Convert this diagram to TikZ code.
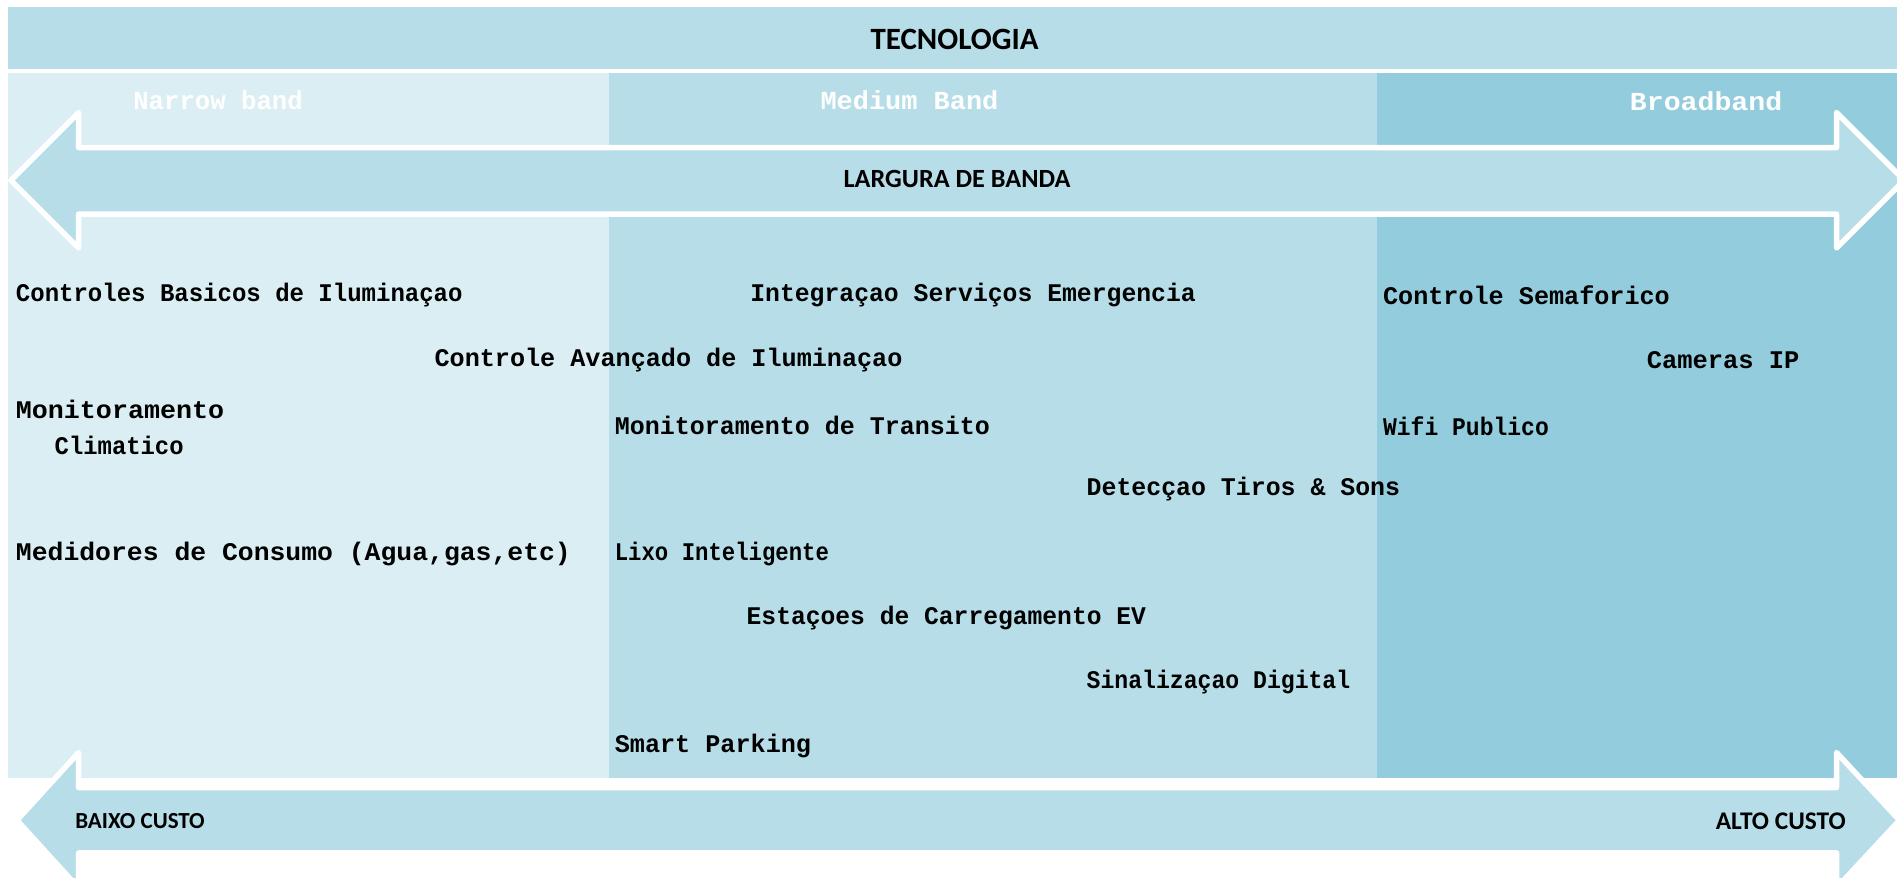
\documentclass[tikz,border=0pt]{standalone}
\usepackage{fontspec}
\usepackage{graphicx}
\newfontfamily\monofam{Liberation Mono}
\newfontfamily\califam{Carlito}
\newcommand\hsq[2]{\scalebox{#1}[1]{#2}}
\definecolor{bandA}{HTML}{DAEEF3}
\definecolor{bandB}{HTML}{B7DEE8}
\definecolor{bandC}{HTML}{93CDDD}
\tikzset{
  item/.style={anchor=west,inner sep=0pt,font=\monofam\bfseries\fontsize{21}{23}\selectfont,text=black},
  bandlbl/.style={anchor=west,inner sep=0pt,font=\monofam\bfseries\fontsize{21.5}{24}\selectfont,text=white},
  headlbl/.style={inner sep=0pt,font=\califam\bfseries\fontsize{25.6}{28}\selectfont,text=black},
  arrowlbl/.style={inner sep=0pt,font=\califam\bfseries\fontsize{21.7}{24}\selectfont,text=black},
  costlbl/.style={anchor=west,inner sep=0pt,font=\califam\bfseries\fontsize{19}{22}\selectfont,text=black},
  bigarrow/.style={fill=bandB,draw=white,line width=4.5pt,line join=round}
}
\begin{document}
\begin{tikzpicture}[x=1pt,y=-1pt]
\useasboundingbox (0,0) rectangle (1568,725);
\fill[white] (0,0) rectangle (1568,725);
% top band
\fill[bandB] (7,6) rectangle (1568,57);
% columns
\fill[bandA] (7,60) rectangle (503,643);
\fill[bandB] (503,60) rectangle (1138,643);
\fill[bandC] (1138,60) rectangle (1568,643);
% top double arrow
\draw[bigarrow] (9,149) -- (65,93) -- (65,122) -- (1518,122) -- (1518,93) -- (1574,149)
  -- (1518,205) -- (1518,177) -- (65,177) -- (65,205) -- cycle;
% bottom double arrow
\draw[bigarrow] (14,678) -- (65,622) -- (65,651) -- (1518,651) -- (1518,622) -- (1570,678)
  -- (1518,734) -- (1518,705) -- (65,705) -- (65,734) -- cycle;
% headings
\node[headlbl] (tec) at (789,33) {TECNOLOGIA};
\node[arrowlbl] (larg) at (791,148) {LARGURA DE BANDA};
\node[bandlbl] (narrow) at (110,83) {\hsq{0.987}{Narrow band}};
\node[bandlbl] (medium) at (678,83) {\hsq{1.036}{Medium Band}};
\node[bandlbl] (broad) at (1347,84) {\hsq{1.085}{Broadband}};
\node[costlbl] (baixo) at (62,679) {BAIXO CUSTO};
\node[costlbl,font=\califam\bfseries\fontsize{21}{24}\selectfont] (alto) at (1418,679) {ALTO CUSTO};
% items
\node[item] (i1) at (13,244) {\hsq{0.945}{Controles Basicos de Iluminaçao}};
\node[item] (i2) at (620,244) {\hsq{0.974}{Integraçao Serviços Emergencia}};
\node[item] (i3) at (1143,244) {\hsq{0.99}{Controle Semaforico}};
\node[item] (i4) at (359,298) {\hsq{0.99}{Controle Avançado de Iluminaçao}};
\node[item] (i5) at (1361,298) {\hsq{1.0}{Cameras IP}};
\node[item] (i6) at (13,338) {\hsq{1.05}{Monitoramento}};
\node[item] (i7) at (45,368) {\hsq{0.94}{Climatico}};
\node[item] (i8) at (508,352) {\hsq{0.984}{Monitoramento de Transito}};
\node[item] (i9) at (1143,352) {\hsq{0.906}{Wifi Publico}};
\node[item] (i10) at (898,404) {\hsq{0.979}{Detecçao Tiros \& Sons}};
\node[item] (i11) at (13,458) {\hsq{1.04}{Medidores de Consumo (Agua,gas,etc)}};
\node[item] (i12) at (508,458) {\hsq{0.878}{Lixo Inteligente}};
\node[item] (i13) at (617,511) {\hsq{0.97}{Estaçoes de Carregamento EV}};
\node[item] (i14) at (898,564) {\hsq{0.91}{Sinalizaçao Digital}};
\node[item] (i15) at (508,617) {\hsq{0.99}{Smart Parking}};
\end{tikzpicture}
\end{document}
